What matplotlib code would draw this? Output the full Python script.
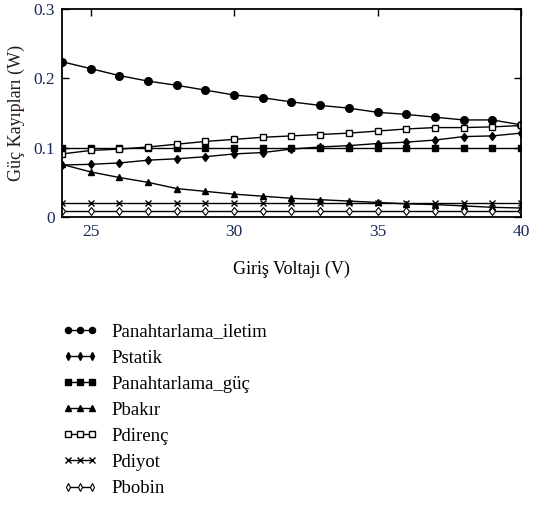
import matplotlib
matplotlib.use('Agg')
import matplotlib.pyplot as plt
import numpy as np

plt.rcParams['font.family'] = ['Liberation Serif', 'DejaVu Serif']

# input voltage (V)
voltaj = np.arange(24, 41)

# loss components (W)
p_iletim = [0.224, 0.214, 0.204, 0.196, 0.190, 0.183, 0.176, 0.172, 0.166,
            0.161, 0.157, 0.151, 0.148, 0.144, 0.140, 0.140, 0.133]
p_statik = [0.075, 0.076, 0.078, 0.082, 0.084, 0.087, 0.091, 0.093, 0.098,
            0.101, 0.103, 0.106, 0.108, 0.111, 0.116, 0.117, 0.121]
p_guc = [0.100] * 17
p_bakir = [0.076, 0.065, 0.057, 0.050, 0.041, 0.037, 0.033, 0.030, 0.027,
           0.025, 0.023, 0.021, 0.019, 0.018, 0.016, 0.014, 0.013]
p_direnc = [0.091, 0.096, 0.098, 0.101, 0.105, 0.109, 0.112, 0.115, 0.117,
            0.119, 0.121, 0.124, 0.127, 0.129, 0.129, 0.130, 0.132]
p_diyot = [0.020] * 17
p_bobin = [0.009] * 17

etiketler = ['Panahtarlama_iletim', 'Pstatik', 'Panahtarlama_güç', 'Pbakır',
             'Pdirenç', 'Pdiyot', 'Pbobin']

fig = plt.figure(figsize=(5.35, 5.15), dpi=100)
ax = fig.add_axes([0.1159, 0.5786, 0.8579, 0.4039])

kw = dict(color='black', lw=1.0)
h = []
h += ax.plot(voltaj, p_iletim, marker='o', ms=5.5, mfc='black', **kw)
h += ax.plot(voltaj, p_statik, marker='d', ms=4.5, mfc='black', **kw)
h += ax.plot(voltaj, p_guc, marker='s', ms=5, mfc='black', **kw)
h += ax.plot(voltaj, p_bakir, marker='^', ms=5, mfc='black', **kw)
h += ax.plot(voltaj, p_direnc, marker='s', ms=5, mfc='white', mew=1.0, **kw)
h += ax.plot(voltaj, p_diyot, marker='x', ms=5, mew=1.0, **kw)
h += ax.plot(voltaj, p_bobin, marker='d', ms=4.5, mfc='white', mew=0.8, **kw)

ax.set_xlim(24, 40)
ax.set_ylim(0, 0.3)
ax.set_xticks([25, 30, 35, 40])
ax.set_yticks([0, 0.1, 0.2, 0.3])
ax.set_yticklabels(['0', '0.1', '0.2', '0.3'])
ax.tick_params(direction='in', length=5, width=1, top=True, right=True,
               bottom=False, labelsize=12.5, labelcolor='#1a2a5a', pad=5)
for s in ax.spines.values():
    s.set_linewidth(1.3)

ax.set_xlabel('Giriş Voltajı (V)', fontsize=13, labelpad=15)
ax.set_ylabel('Güç Kayıpları (W)', fontsize=13, color='#2a1a10', labelpad=6)

leg = fig.legend(h, etiketler, loc='upper left', bbox_to_anchor=(0.085, 0.405),
                 frameon=False, numpoints=3, handlelength=1.9, markerscale=0.8,
                 labelspacing=0.48, fontsize=13.5, handletextpad=0.7)

fig.savefig('out.png', dpi=100)
